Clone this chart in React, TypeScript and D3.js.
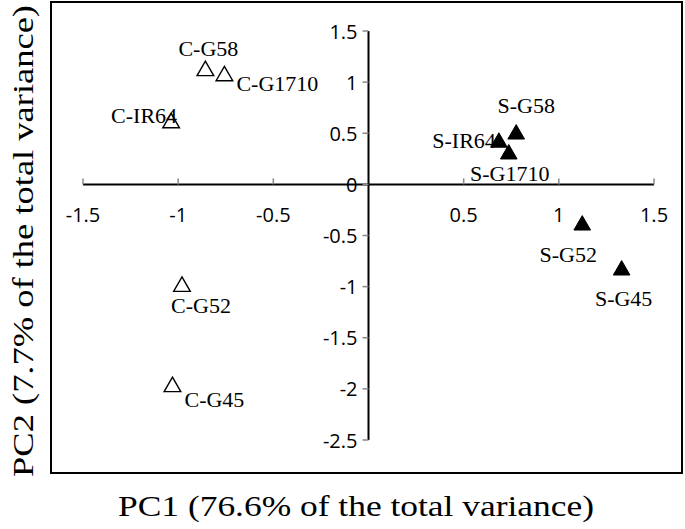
import React, { useEffect, useRef } from "react"
import * as d3 from "d3"

// ---------- Data ----------
const sampleNames = ["C-G58", "C-G1710", "C-IR64", "C-G52", "C-G45", "S-G58", "S-IR64", "S-G1710", "S-G52", "S-G45"]
const pc1Values = [-0.857, -0.757, -1.037, -0.98, -1.03, 0.776, 0.685, 0.737, 1.123, 1.33]
const pc2Values = [1.13, 1.08, 0.62, -0.98, -1.96, 0.51, 0.43, 0.315, -0.38, -0.82]
const groups = ["C", "C", "C", "C", "C", "S", "S", "S", "S", "S"]

const xTicks = [-1.5, -1, -0.5, 0.5, 1, 1.5]
const xTickLabels = ["-1.5", "-1", "-0.5", "0.5", "1", "1.5"]
const yTicks = [1.5, 1, 0.5, 0, -0.5, -1, -1.5, -2, -2.5]
const yTickLabels = ["1.5", "1", "0.5", "0", "-0.5", "-1", "-1.5", "-2", "-2.5"]

const xTitle = "PC1 (76.6% of the total variance)"
const yTitle = "PC2 (7.7% of the total variance)"

// label placement next to each marker (dx, dy in px, anchor)
const labelPlacement: [number, number, string][] = [
    [3, -20, "middle"],
    [12, 10, "start"],
    [6, -5, "end"],
    [19, 21, "middle"],
    [12, 15, "start"],
    [10, -27, "middle"],
    [-3, 0, "end"],
    [1, 21, "middle"],
    [-14, 31, "middle"],
    [2, 30, "middle"],
]

const W = 685
const H = 529

export default function App() {
    const svgRef = useRef<SVGSVGElement>(null)

    useEffect(() => {
        if (!svgRef.current) return
        const svg = d3.select(svgRef.current)
        svg.selectAll("*").remove()

        const x = d3.scaleLinear().domain([-1.5, 1.5]).range([83, 654])
        const y = d3.scaleLinear().domain([-2.5, 1.5]).range([440, 31])

        svg.append("rect").attr("width", W).attr("height", H).attr("fill", "#fff")

        // outer frame
        svg.append("rect")
            .attr("x", 51).attr("y", 2)
            .attr("width", 631).attr("height", 471)
            .attr("fill", "none")
            .attr("stroke", "#000")
            .attr("stroke-width", 2)

        const tickFont = "'Open Sans', sans-serif"
        const labelFont = "'Liberation Serif', serif"

        // x axis
        const y0 = y(0)
        svg.append("line")
            .attr("x1", x(-1.5)).attr("x2", x(1.5))
            .attr("y1", y0).attr("y2", y0)
            .attr("stroke", "#000").attr("stroke-width", 2)
        svg.selectAll(".xtick")
            .data(xTicks)
            .enter().append("line")
            .attr("x1", d => x(d)).attr("x2", d => x(d))
            .attr("y1", y0 - 6).attr("y2", y0)
            .attr("stroke", "#888").attr("stroke-width", 1.5)
        svg.selectAll(".xlab")
            .data(xTicks)
            .enter().append("text")
            .attr("x", d => x(d))
            .attr("y", y0 + 30)
            .attr("text-anchor", "middle")
            .attr("dominant-baseline", "central")
            .style("font-family", tickFont)
            .style("font-size", "20px")
            .attr("fill", "#000")
            .text((d, i) => xTickLabels[i])

        // y axis
        const x0 = x(0)
        svg.append("line")
            .attr("x1", x0).attr("x2", x0)
            .attr("y1", y(1.5)).attr("y2", y(-2.5))
            .attr("stroke", "#000").attr("stroke-width", 2)
        svg.selectAll(".ytick")
            .data(yTicks)
            .enter().append("line")
            .attr("x1", x0 - 6).attr("x2", x0)
            .attr("y1", d => y(d)).attr("y2", d => y(d))
            .attr("stroke", "#888").attr("stroke-width", 1.5)
        svg.selectAll(".ylab")
            .data(yTicks)
            .enter().append("text")
            .attr("x", x0 - 11)
            .attr("y", d => y(d))
            .attr("text-anchor", "end")
            .attr("dominant-baseline", "central")
            .style("font-family", tickFont)
            .style("font-size", "20px")
            .attr("fill", "#000")
            .text((d, i) => yTickLabels[i])

        // points
        const tri = d3.symbol().type(d3.symbolTriangle).size(120)
        const idx = d3.range(sampleNames.length)
        svg.selectAll(".pt")
            .data(idx)
            .enter().append("path")
            .attr("d", tri)
            .attr("transform", i => `translate(${x(pc1Values[i])},${y(pc2Values[i]) + 2})`)
            .attr("fill", i => groups[i] === "S" ? "#000" : "#fff")
            .attr("stroke", "#000")
            .attr("stroke-width", i => groups[i] === "S" ? 1 : 1.4)

        svg.selectAll(".ptlab")
            .data(idx)
            .enter().append("text")
            .attr("x", i => x(pc1Values[i]) + labelPlacement[i][0])
            .attr("y", i => y(pc2Values[i]) + labelPlacement[i][1])
            .attr("text-anchor", i => labelPlacement[i][2])
            .attr("dominant-baseline", "central")
            .style("font-family", labelFont)
            .style("font-size", "22px")
            .attr("fill", "#000")
            .text(i => sampleNames[i])

        // axis titles
        svg.append("text")
            .attr("x", 356).attr("y", 505)
            .attr("text-anchor", "middle")
            .attr("dominant-baseline", "central")
            .style("font-family", labelFont)
            .style("font-size", "30px")
            .attr("textLength", 476)
            .attr("lengthAdjust", "spacingAndGlyphs")
            .text(xTitle)

        svg.append("text")
            .attr("transform", `translate(22,241) rotate(-90)`)
            .attr("text-anchor", "middle")
            .attr("dominant-baseline", "central")
            .style("font-family", labelFont)
            .style("font-size", "30px")
            .attr("textLength", 472)
            .attr("lengthAdjust", "spacingAndGlyphs")
            .text(yTitle)
    }, [])

    return (
        <div style={{ position: "absolute", left: 0, top: 0 }}>
            <svg ref={svgRef} width={W} height={H} style={{ display: "block" }} />
        </div>
    )
}
